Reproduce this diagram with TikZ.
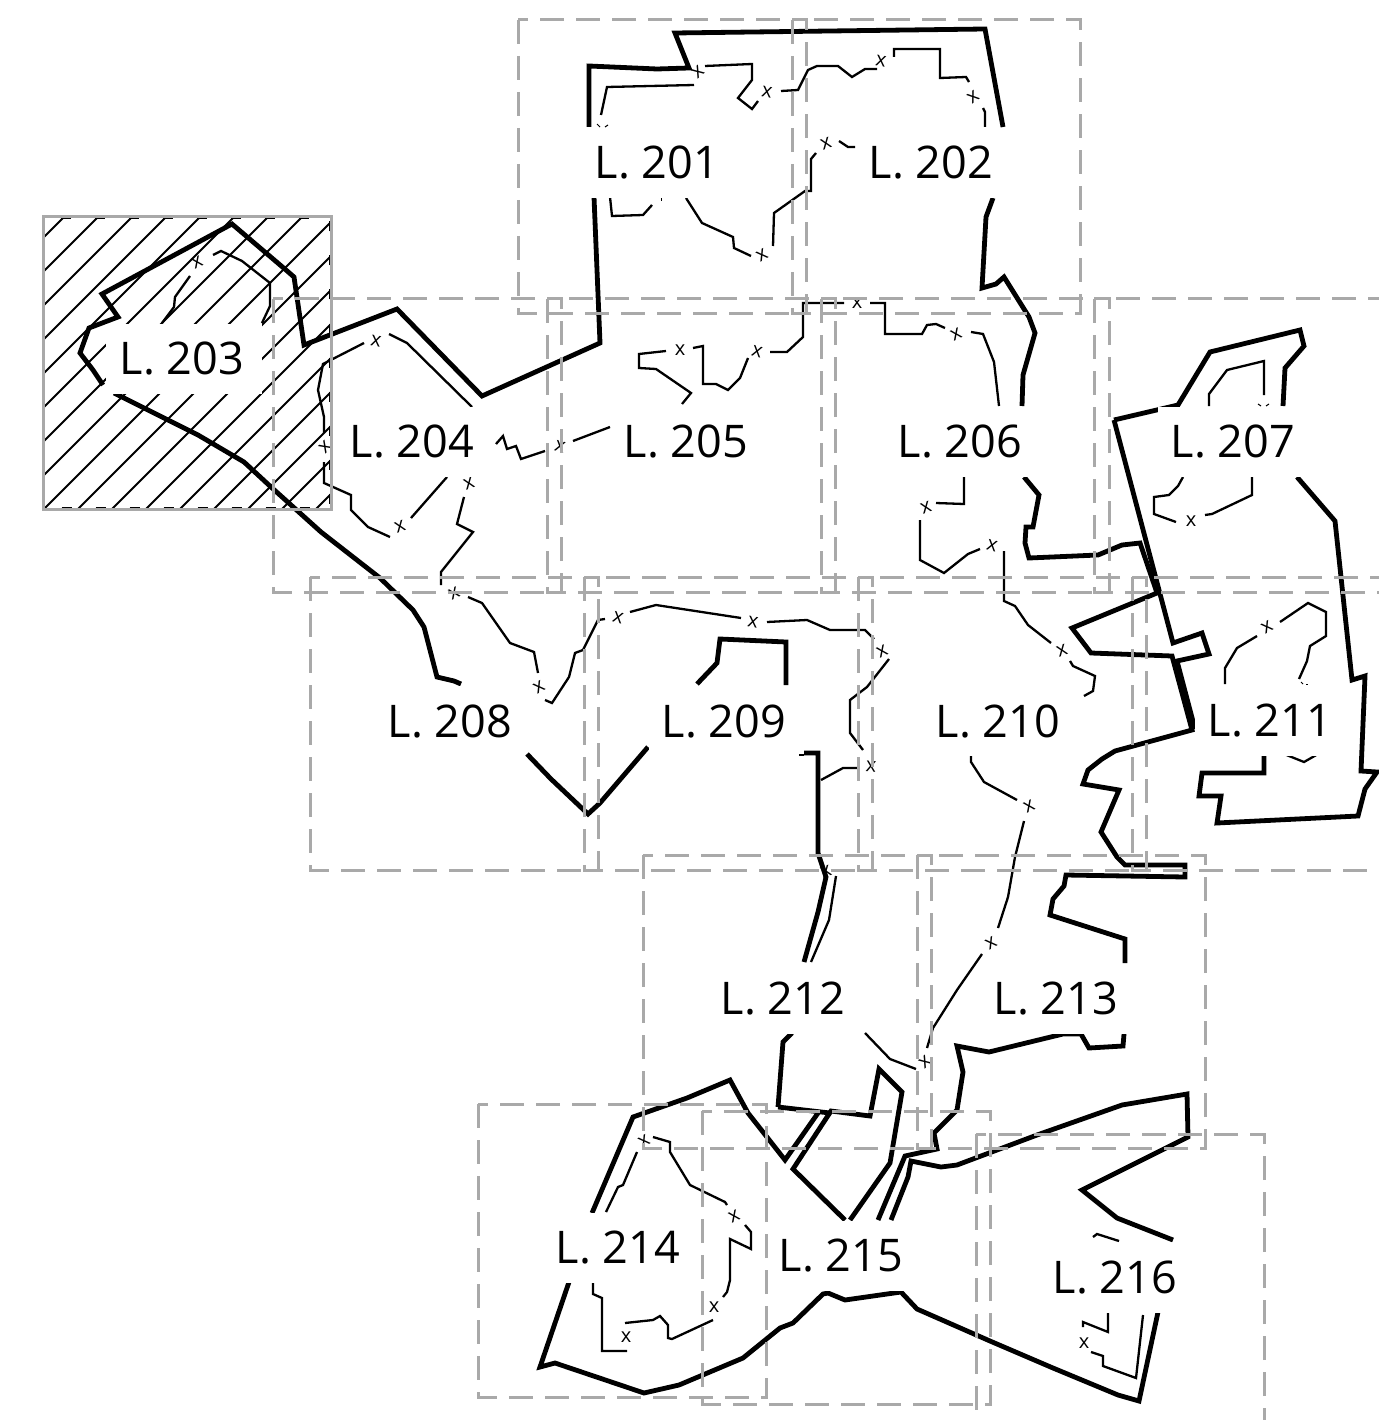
\documentclass[tikz,border=0pt]{standalone}
\usepackage{fontspec}
\setmainfont{Open Sans}
\definecolor{sheetgray}{HTML}{A9A9A9}
\tikzset{
  thickline/.style={line width=4.8pt,line join=miter,miter limit=3},
  thinline/.style={line width=2.3pt,line join=miter,miter limit=3},
  sheet/.style={draw=sheetgray,line width=3pt,dash pattern=on 24pt off 12pt},
  lot/.style={fill=white,inner sep=0pt,yshift=-1pt,minimum width=150pt,minimum height=70pt,font=\fontsize{45}{52}\selectfont},
  xmark/.style={inner sep=0pt,font=\fontsize{20}{22}\selectfont},
  tick/.style={line width=1pt}
}
\begin{document}
\begin{tikzpicture}[x=1pt,y=-1pt]
    \useasboundingbox (0,0) rectangle (1378,1420);
    % hatched sheet
    \begin{scope}
        \clip (43,217) rectangle (331,509);
        \foreach \c in {281,315,...,840}
            \draw[line width=1.8pt] (\c-217,217) -- (\c-509,509);
    \end{scope}
    \draw[line width=1.2pt,dash pattern=on 10pt off 24pt] (44.5,218.5) rectangle (329.5,507.5);
    % boundary
    \draw[thickline] (589,127) -- (589,66) -- (657,69) -- (689,68) -- (675,33) -- (985,29) -- (1003,127);
    \draw[thickline] (594,197) -- (600,343) -- (482,396) -- (397,309) -- (304,345) -- (294,277) -- (286,270) -- (232,224) -- (102,294) -- (118,317) -- (89,328) -- (80,353) -- (93,370) -- (103,385);
    \draw[thickline] (114,393) -- (198,435) -- (244,462) -- (271,487) -- (321,532) -- (380,578) -- (413,610) -- (424,627) -- (437,677) -- (454,681) -- (461,684);
    \draw[thickline] (527,754) -- (551,779) -- (588,814) -- (600,803) -- (648,747);
    \draw[thickline] (697,684) -- (717,663) -- (720,639) -- (786,642) -- (786,685);
    \draw[thickline] (804,753) -- (818,753) -- (818,853) -- (826,877) -- (818,912) -- (804,962);
    \draw[thickline] (993,198) -- (986,217) -- (982,288) -- (996,284) -- (1004,277) -- (1029,317) -- (1035,333) -- (1023,375) -- (1022,406);
    \draw[thickline] (1024,477) -- (1039,495) -- (1033,527) -- (1026,527) -- (1025,543) -- (1029,558) -- (1098,555) -- (1122,545) -- (1140,543) -- (1157,593) -- (1072,628) -- (1091,653) -- (1172,656) -- (1192,730) -- (1115,751) -- (1102,759) -- (1088,770) -- (1083,784) -- (1119,790) -- (1101,832) -- (1117,857) -- (1125,865) -- (1185,865) -- (1185,877) -- (1066,875) -- (1064,886) -- (1053,899) -- (1050,915) -- (1125,939) -- (1125,963);
    \draw[thickline] (1124,1034) -- (1123,1046) -- (1089,1048) -- (1081,1034) -- (1063,1034) -- (989,1052) -- (957,1046) -- (963,1072) -- (957,1110) -- (934,1133) -- (937,1149) -- (905,1156) -- (878,1220);
    \draw[thickline] (891,1220) -- (908,1177) -- (911,1161) -- (941,1167) -- (957,1165) -- (1037,1135) -- (1122,1105) -- (1187,1094) -- (1188,1137) -- (1082,1190) -- (1117,1218) -- (1173,1240);
    \draw[thickline] (1158,1312) -- (1139,1401) -- (1118,1395) -- (1053,1368) -- (990,1341) -- (917,1309) -- (901,1292) -- (845,1300) -- (828,1293) -- (823,1294) -- (793,1323) -- (780,1328) -- (743,1358) -- (679,1385) -- (644,1393) -- (555,1363) -- (540,1367) -- (569,1282);
    \draw[thickline] (592,1213) -- (633,1117) -- (687,1098) -- (730,1080) -- (748,1113) -- (785,1160) -- (818,1113);
    \draw[thickline] (778,1107) -- (783,1042) -- (792,1033);
    \draw[thickline] (778,1107) -- (830,1113);
    \draw[thickline] (845,1220) -- (793,1169) -- (831,1111) -- (870,1116) -- (879,1069) -- (902,1092) -- (890,1163) -- (850,1220);
    \draw[thickline] (1114,420) -- (1178,405) -- (1210,352) -- (1300,330) -- (1304,346) -- (1285,368) -- (1283,406);
    \draw[thickline] (1114,420) -- (1173,643) -- (1202,633) -- (1209,654) -- (1177,661) -- (1195,729);
    \draw[thickline] (1297,477) -- (1335,521) -- (1352,680) -- (1365,676) -- (1361,771) -- (1377,772) -- (1365,789) -- (1358,816) -- (1217,823) -- (1221,796) -- (1199,796) -- (1202,773) -- (1264,773) -- (1264,754);
    % inner lines
    \draw[thinline] (601,115) -- (607,87) -- (694,85);
    \draw[thinline] (705,66) -- (752,64) -- (752,80) -- (738,98) -- (752,109) -- (758,101);
    \draw[thinline] (781,91) -- (798,90) -- (808,70) -- (817,66) -- (838,66) -- (852,77) -- (865,69) -- (877,69);
    \draw[thinline] (894,57) -- (894,49) -- (940,49) -- (940,78) -- (966,77) -- (969,82);
    \draw[thinline] (983,108) -- (985,112) -- (985,127);
    \draw[thinline] (610,197) -- (612,216) -- (643,215) -- (652,205);
    \draw[thinline] (686,198) -- (702,223) -- (733,237) -- (734,248) -- (751,256);
    \draw[thinline] (773,246) -- (774,213) -- (805,191) -- (811,191) -- (811,159) -- (816,153);
    \draw[thinline] (839,141) -- (848,147) -- (855,147);
    \draw[thinline] (190,276) -- (175,297) -- (174,307) -- (162,323);
    \draw[thinline] (213,255) -- (221,251) -- (242,261) -- (270,283) -- (270,306) -- (262,323);
    \draw[thinline] (472,407) -- (407,343) -- (389,334);
    \draw[thinline] (364,343) -- (323,364) -- (318,390) -- (324,417) -- (324,433);
    \draw[thinline] (324,462) -- (324,483) -- (351,495) -- (351,510) -- (368,527) -- (390,537);
    \draw[thinline] (411,518) -- (447,477);
    \draw[thinline] (496,444) -- (503,436) -- (507,449) -- (516,446) -- (521,459) -- (545,451);
    \draw[thinline] (573,441) -- (610,427);
    \draw[thinline] (464,497) -- (457,524) -- (473,532) -- (441,572) -- (441,585);
    \draw[thinline] (468,597) -- (482,603) -- (510,643) -- (534,652) -- (538,673);
    \draw[thinline] (545,700) -- (552,703) -- (569,677) -- (575,653) -- (583,650) -- (598,620) -- (605,619);
    \draw[thinline] (630,612) -- (656,605) -- (741,618);
    \draw[thinline] (767,622) -- (807,620) -- (830,630) -- (865,630) -- (874,639);
    \draw[thinline] (889,659) -- (867,687) -- (850,700) -- (850,733) -- (863,750);
    \draw[thinline] (857,768) -- (843,768) -- (821,780);
    \draw[thinline] (781,755) -- (804,755);
    \draw[thinline] (836,876) -- (829,920) -- (811,962);
    \draw[thinline] (666,351) -- (639,354) -- (639,368) -- (656,369) -- (691,393) -- (682,404);
    \draw[thinline] (693,348) -- (703,346) -- (703,384) -- (716,384) -- (728,390) -- (740,378) -- (748,358);
    \draw[thinline] (770,352) -- (787,352) -- (803,337) -- (803,303) -- (844,303);
    \draw[thinline] (870,303) -- (885,303) -- (885,334) -- (922,334) -- (927,325) -- (936,324) -- (945,328);
    \draw[thinline] (971,332) -- (983,334) -- (994,362) -- (999,406);
    \draw[thinline] (964,477) -- (964,504) -- (936,503);
    \draw[thinline] (920,520) -- (920,560) -- (944,573) -- (968,554) -- (980,549);
    \draw[thinline] (1004,551) -- (1004,601) -- (1015,606) -- (1028,625) -- (1051,643);
    \draw[thinline] (1070,661) -- (1073,666) -- (1095,676) -- (1093,691) -- (1084,696);
    \draw[thinline] (1209,406) -- (1209,394) -- (1227,370) -- (1264,361) -- (1264,395);
    \draw[thinline] (1183,477) -- (1178,486) -- (1169,495) -- (1154,497) -- (1154,514) -- (1176,522);
    \draw[thinline] (1205,515) -- (1212,514) -- (1252,495) -- (1252,477);
    \draw[thinline] (1225,684) -- (1225,668) -- (1237,648) -- (1257,636);
    \draw[thinline] (1280,622) -- (1308,603) -- (1326,612) -- (1326,636) -- (1310,646) -- (1307,661) -- (1299,679);
    \draw[thinline] (1284,754) -- (1304,762) -- (1318,754);
    \draw[thinline] (971,754) -- (971,762) -- (984,782) -- (1017,800);
    \draw[thinline] (1024,821) -- (1015,857) -- (1008,897) -- (998,928);
    \draw[thinline] (982,954) -- (957,990) -- (933,1028) -- (927,1048);
    \draw[thinline] (865,1033) -- (890,1059) -- (916,1069);
    \draw[thinline] (606,1212) -- (618,1187) -- (623,1185) -- (637,1152);
    \draw[thinline] (653,1137) -- (670,1142) -- (670,1152) -- (690,1185) -- (725,1202) -- (727,1205);
    \draw[thinline] (745,1225) -- (751,1232) -- (751,1249) -- (730,1239) -- (730,1280) -- (727,1292) -- (723,1297);
    \draw[thinline] (713,1320) -- (672,1339) -- (668,1338) -- (668,1325) -- (660,1316) -- (653,1320) -- (625,1323);
    \draw[thinline] (627,1351) -- (602,1351) -- (602,1298) -- (593,1294) -- (593,1282);
    \draw[thinline] (1093,1237) -- (1097,1234) -- (1119,1241);
    \draw[thinline] (1108,1312) -- (1108,1332) -- (1083,1322) -- (1083,1327);
    \draw[thinline] (1091,1352) -- (1103,1356) -- (1103,1366) -- (1136,1378) -- (1143,1315);
    % leftovers of crossings
    \draw[tick] (597,124) -- (600,127);
    \draw[tick] (605,127) -- (608,125);
    \draw[tick] (661,198) -- (661,201);
    \draw[tick] (1258,404) -- (1261,406);
    \draw[tick] (1266,406) -- (1269,404);
    \draw[tick] (1301,682) -- (1303,684);
    \draw[tick] (1306,684) -- (1308,684);
    \draw[tick,sheetgray!60] (965,197) -- (977,197);
    % crossings
    \foreach \px/\py/\pr [count=\i] in {698/72/40,767/92/-10,881/61/-10,973/97/35,826/144/20,762/255/30,
        197/262/25,376/341/-10,325/447/45,400/527/20,469/484/20,560/447/-15,680/350/0,757/352/-15,857/303/0,956/334/25,
        926/508/20,992/546/-15,1191/521/0,1062/651/20,1267/627/30,454/593/25,539/687/30,618/618/-15,
        753/622/-10,882/651/25,871/767/-5,826/872/20,1029/806/25,991/943/30,925/1062/40,644/1141/30,734/1216/25,714/1307/0,
        626/1337/0,1084/1343/0}
        \node[xmark,rotate=\pr] (m\i) at (\px,\py) {x};
    % lots
    \node[lot] (L201) at (657,162) {L. 201};
    \node[lot] (L202) at (931,162) {L. 202};
    \node[lot,minimum width=156pt] (L203) at (184,358) {\hspace*{-4pt}L. 203};
    \node[lot] (L204) at (412,441) {L. 204};
    \node[lot] (L205) at (686,441) {L. 205};
    \node[lot] (L206) at (960,441) {L. 206};
    \node[lot] (L207) at (1233,441) {L. 207};
    \node[lot] (L208) at (450,720) {L. 208};
    \node[lot] (L209) at (724,720) {L. 209};
    \node[lot] (L210) at (998,720) {L. 210};
    \node[lot] (L211) at (1270,720) {L. 211};
    \node[lot] (L212) at (783,998) {L. 212};
    \node[lot] (L213) at (1056,998) {L. 213};
    \node[lot] (L214) at (618,1247) {L. 214};
    \node[lot] (L215) at (841,1255) {L. 215};
    \node[lot] (L216) at (1115,1277) {L. 216};
    % sheets
    \draw[draw=sheetgray,line width=3pt] (43,217) rectangle (331,509);
    \foreach \sx/\sy in {518/20,792/20,273/299,547/299,821/299,1094/299,310/577,584/577,858/577,1132/577,643/855,917/855,478/1104,702/1111,976/1134}
        \draw[sheet] (\sx,\sy) rectangle ++(288,293);
\end{tikzpicture}
\end{document}
